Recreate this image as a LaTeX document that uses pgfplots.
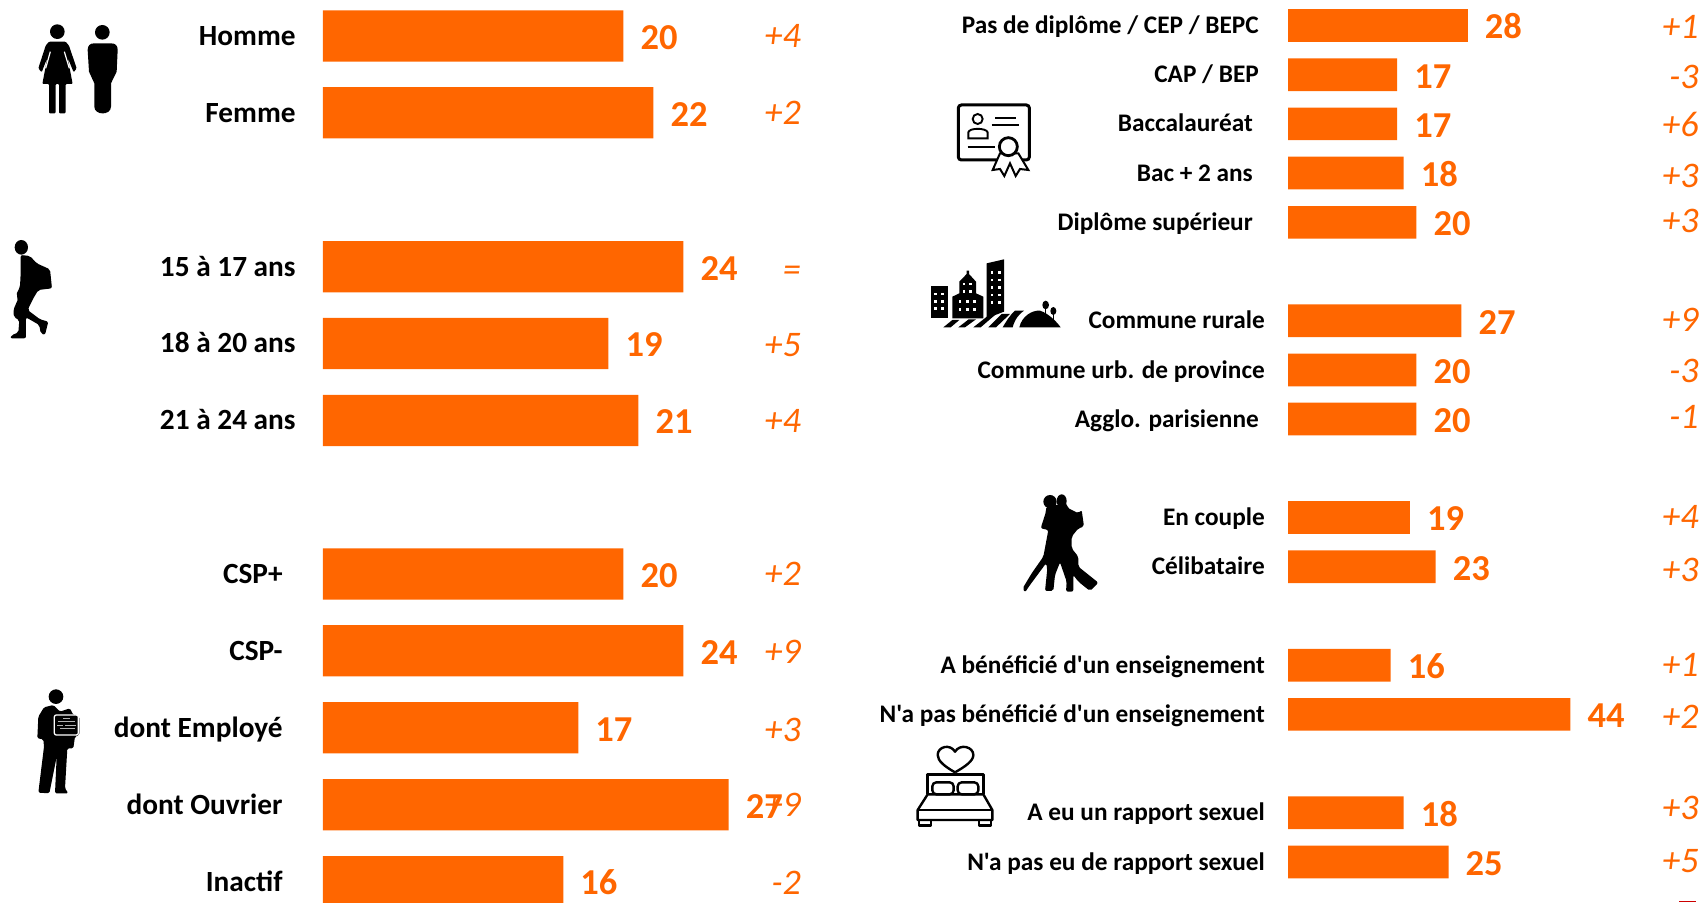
\documentclass[border=0pt]{standalone}
\usepackage{fontspec}
\setmainfont[Ligatures=TeXOff]{Carlito}
\usepackage{pgfplots}
\usepackage{pgfplotstable}
\pgfplotsset{compat=1.18}
\definecolor{bar}{HTML}{FF6600}
\pgfplotstableread{
y v d dy
36.0 20 +4 35.0
112.8 22 +2 112.5
266.7 24 = 269.5
343.5 19 +5 344.5
420.5 21 +4 420.5
574.0 20 +2 573.5
650.8 24 +9 651.0
727.8 17 +3 729.0
804.7 27 +9 804.0
881.6 16 -2 882.0
}\lefttab
\pgfplotstableread{
y v d dy
25.5 28 +1 26.0
74.7 17 -3 76.7
123.8 17 +6 124.3
173.0 18 +3 175.0
222.3 20 +3 220.0
320.7 27 +9 319.0
370.0 20 -3 370.0
419.0 20 -1 416.7
517.5 19 +4 516.7
566.7 23 +3 569.0
665.2 16 +1 664.0
714.3 44 +2 716.0
812.7 18 +3 807.0
862.0 25 +5 860.0
}\righttab
\pgfplotsset{panel/.style={
  scale only axis, height=902pt, ymin=0, ymax=902, y dir=reverse, xmin=0,
  axis line style={draw=none}, tick style={draw=none}, xtick=\empty, ytick=data,
  anchor=south west, major tick length=0pt,
  y tick label style={anchor=east, inner sep=0pt},
}}
\newcommand\valfont{\bfseries\fontsize{36.5}{40}\selectfont}
\newcommand\delfont{\itshape\fontsize{36}{38}\selectfont}
\tikzset{
 valnode/.style={anchor=west, inner sep=0pt, xshift=17pt, yshift=-1.7pt, text=bar, font=\valfont, text height=23.3pt, text depth=0pt},
 delnode/.style={anchor=east, inner sep=0pt, yshift=-1pt, text=bar, font=\delfont, text height=22pt, text depth=0pt},
}
\begin{document}
\begin{tikzpicture}
\useasboundingbox (0,0) rectangle (1704pt,902pt);
% ---------- left panel
\begin{axis}[panel, at={(322.8pt,0pt)}, width=529pt, xmax=35.2,
  y tick label style={xshift=-27pt, font=\bfseries\fontsize{29.3}{31}\selectfont, text height=18.8pt, text depth=0pt},
  yticklabels={Homme,Femme,15 à 17 ans,18 à 20 ans,21 à 24 ans,
    CSP+\hspace*{13pt},CSP-\hspace*{13pt},dont Employé\hspace*{13pt},dont Ouvrier\hspace*{13pt},Inactif\hspace*{13pt}}]
\addplot[xbar, bar width=51.2pt, bar shift=0pt, fill=bar, draw=none,
  point meta=explicit symbolic, nodes near coords={\pgfplotspointmeta},
  nodes near coords style={valnode}] table[x=v,y=y,meta=v]{\lefttab};
\addplot[draw=none, mark=none, point meta=explicit symbolic,
  nodes near coords={\pgfplotspointmeta},
  nodes near coords style={delnode}] table[x expr=31.82,y=dy,meta=d]{\lefttab};
\end{axis}
% ---------- right panel
\begin{axis}[panel, at={(1288pt,0pt)}, width=416pt, xmax=64.8,
  y tick label style={xshift=-23pt, font=\bfseries\fontsize{25.3}{27}\selectfont, text height=16.3pt, text depth=0pt},
  yticklabels={Pas de diplôme / CEP / BEPC\hspace*{6pt},CAP / BEP\hspace*{6pt},Baccalauréat\hspace*{12pt},Bac + 2 ans\hspace*{12pt},Diplôme supérieur\hspace*{12pt},
    Commune rurale,Commune urb. de province,Agglo. parisienne\hspace*{6pt},
    En couple,Célibataire,A bénéficié d'un enseignement,N'a pas bénéficié d'un enseignement,
    A eu un rapport sexuel,N'a pas eu de rapport sexuel}]
\addplot[xbar, bar width=32.6pt, bar shift=0pt, fill=bar, draw=none,
  point meta=explicit symbolic, nodes near coords={\pgfplotspointmeta},
  nodes near coords style={valnode}] table[x=v,y=y,meta=v]{\righttab};
\addplot[draw=none, mark=none, point meta=explicit symbolic,
  nodes near coords={\pgfplotspointmeta},
  nodes near coords style={delnode}] table[x expr=63.99,y=dy,meta=d]{\righttab};
\end{axis}
% ---------- icons (coordinates in crop pixels)
\begin{scope}[x=1pt,y=-1pt,shift={(0pt,902pt)}]
% couple
\begin{scope}[shift={(25,15)},scale=1/3]
\fill (97,50) circle (22);
\fill[rounded corners=1pt] (72,80)--(122,80)--(132,92)--(155,160)--(146,172)--(128,128)--(143,207)--(122,207)--(122,295)--(102,295)--(102,207)--(92,207)--(92,295)--(72,295)--(72,207)--(52,207)--(67,128)--(50,172)--(40,160)--(62,92)--cycle;
\draw[white,line width=1.2pt] (76,110)--(62,160) (118,110)--(133,160);
\fill (232,52) circle (22);
\fill (188,105) .. controls (188,92) and (195,85) .. (208,85)--(258,85) .. controls (272,85) and (278,92) .. (278,105)--(275,170)--(258,205)--(258,275) .. controls (258,302) and (208,302) .. (208,275)--(208,205)--(192,170)--cycle;
\end{scope}
% backpacker
\begin{scope}[shift={(0,230)},scale=1/3]
\fill (64,52) ellipse (20 and 22);
\fill[rounded corners=2pt] (62,75)--(90,78)--(110,100)--(150,118)--(156,175)--(115,180)--(100,205)--(83,240)--(120,268)--(145,275)--(135,315)--(122,310)--(118,285)--(78,262)--(78,325)--(30,325)--(35,315)--(55,308)--(58,270)--(42,262)--(40,240)--(55,205)--(48,195)--(60,170)--(62,130)--cycle;
\end{scope}
% employee
\begin{scope}[shift={(20,680)},scale=1/3]
\fill (108,50) circle (22);
\fill[rounded corners=1.5pt] (72,82)--(100,75)--(120,95)--(150,85)--(160,105)--(178,110)--(178,165)--(165,170)--(160,205)--(142,205)--(135,325)--(145,340)--(105,340)--(110,230)--(88,340)--(55,338)--(72,200)--(70,178)--(52,175)--(55,110)--cycle;
\draw[white,line width=1.3pt,fill=black,rounded corners=2pt] (103,105) rectangle (175,165);
\draw[gray!60,line width=1pt] (130,116)--(150,116) (115,126)--(165,126) (112,136)--(128,136) (135,136)--(168,136) (120,146)--(165,146);
\end{scope}
% diploma
\begin{scope}[shift={(945,95)},scale=1/3,line width=3pt]
\draw[rounded corners=3pt] (40,30) rectangle (253,195);
\draw[line width=1.9pt] (98,72) circle (15);
\draw[line width=1.9pt] (70,130)--(70,112) .. controls (72,98) and (124,98) .. (128,112)--(128,130)--cycle;
\draw[line width=1.9pt] (150,68)--(212,68) (140,90)--(222,90) (68,157)--(150,157);
\draw[fill=white,line width=2pt] (165,175)--(143,225)--(165,222)--(178,243)--(195,205)--(212,243)--(225,222)--(250,225)--(220,175)--cycle;
\draw[fill=white,line width=2.8pt] (190,155) circle (27);
\end{scope}
% city
\begin{scope}[shift={(920,250)},scale=1/3]
\fill (32,108) rectangle (85,205);
\fill (97,205)--(97,140)--(118,130)--(118,95)--(140,72)--(140,62)--(147,62)--(147,72)--(168,95)--(168,130)--(190,140)--(190,205)--cycle;
\fill (200,40)--(252,28)--(252,185)--(200,205)--cycle;
\foreach \x in {46,68} \foreach \y in {132,154,176} \fill[white] (\x-4,\y-4) rectangle ++(8,8);
\foreach \x in {132,152} \foreach \y in {102,125} \fill[white] (\x-4,\y-4) rectangle ++(8,8);
\foreach \x in {120,142,164} \foreach \y in {155,178} \fill[white] (\x-4,\y-4) rectangle ++(8,8);
\foreach \x in {216,238} \foreach \y in {68,90,112,135,158} \fill[white] (\x-4,\y-4) rectangle ++(8,8);
\fill (70,232)--(92,232)--(118,210)--(97,210)--cycle;
\fill (115,232)--(135,232)--(168,208)--(146,208)--cycle;
\fill (160,232)--(182,232)--(225,195)--(203,198)--cycle;
\fill (205,232)--(228,232)--(270,192)--(245,192)--cycle;
\fill (248,232)--(278,232) .. controls (285,205) and (300,190) .. (312,182)--(285,182) .. controls (270,195) and (258,215) .. cycle;
\fill (298,232) .. controls (305,200) and (335,180) .. (360,182) .. controls (385,190) and (410,215) .. (422,232)--cycle;
\fill (377,165) ellipse (10 and 13);
\fill (400,183) ellipse (9 and 12);
\draw[line width=.8pt] (377,170)--(377,195) (400,190)--(400,210);
\end{scope}
% dancers
\begin{scope}[shift={(1010,485)},scale=1/3]
\fill (120,50) ellipse (20 and 20);
\fill (155,48) ellipse (15 and 20);
\fill[rounded corners=2pt] (108,65)--(170,55)--(172,68)--(205,85)--(215,75)--(222,125)--(205,130)--(185,155)--(185,190)--(205,215)--(205,245)--(265,293)--(240,318)--(205,290)--(190,270)--(190,320)--(168,320)--(170,290)--(150,232)--(135,270)--(130,318)--(105,318)--(112,250)--(108,235)--(60,300)--(45,322)--(38,310)--(65,265)--(100,215)--(115,135)--(92,130)--(108,80)--cycle;
\end{scope}
% bed
\begin{scope}[shift={(905,735)},scale=1/3,line width=2.4pt,line join=round]
\draw (150,112) .. controls (120,95) and (98,78) .. (98,60) .. controls (98,35) and (135,25) .. (150,50) .. controls (165,25) and (205,35) .. (205,60) .. controls (205,78) and (180,95) .. (150,112);
\draw (68,178)--(68,118)--(235,118)--(235,178);
\draw[rounded corners=4pt] (82,142) rectangle (146,178);
\draw[rounded corners=4pt] (158,142) rectangle (220,178);
\draw (68,178)--(235,178)--(262,225)--(262,255)--(38,255)--(38,225)--cycle;
\draw (38,225)--(262,225);
\draw (42,255)--(42,272)--(78,272)--(78,255);
\draw (222,255)--(222,272)--(258,272)--(258,255);
\end{scope}
\draw[red!80!black,line width=1pt] (1679,901.5)--(1696,901.5);
\end{scope}
\end{tikzpicture}
\end{document}
